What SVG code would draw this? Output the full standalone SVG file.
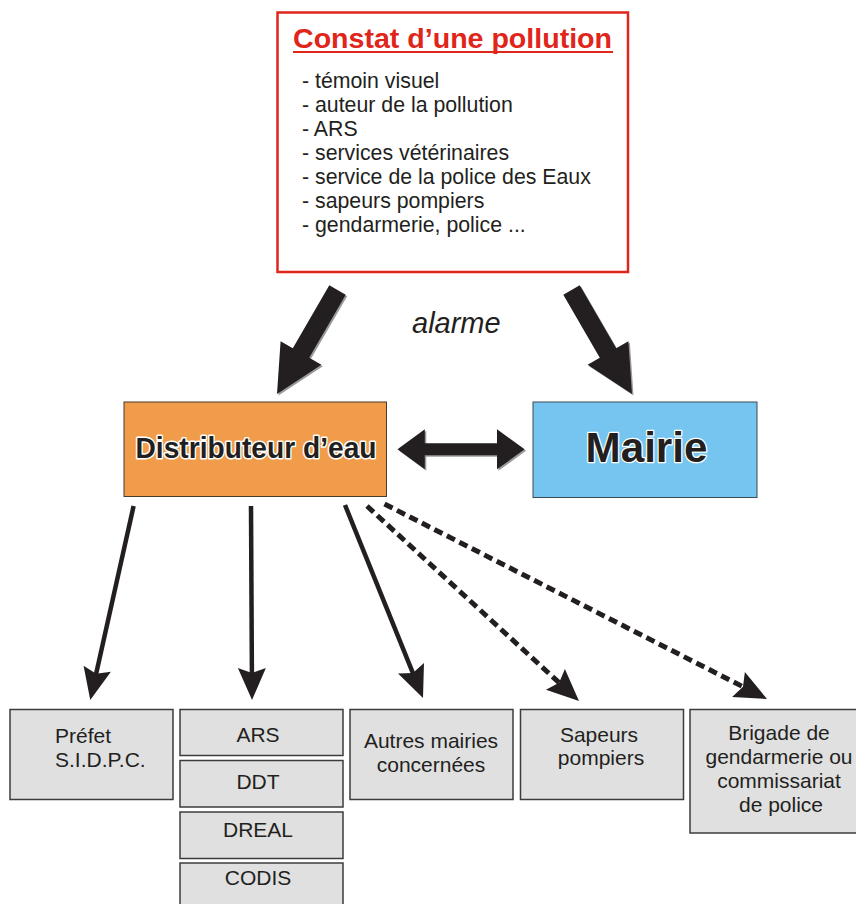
<svg xmlns="http://www.w3.org/2000/svg" width="856" height="904" viewBox="0 0 856 904">
<style>
.t{font-family:"Liberation Sans",Arial,sans-serif;fill:#231f20}
.box{fill:#e0e0e0;stroke:#3c3c3c;stroke-width:1.5}
.lbl{font-size:21px;text-anchor:middle}
.con{stroke:#231f20;stroke-width:4.5;fill:none}
.dash{stroke-dasharray:9 5;stroke-width:5}
.big{fill:#231f20}
.sh{fill:#9a9a9a}
</style>
<defs>
<marker id="ah" markerUnits="userSpaceOnUse" markerWidth="34" markerHeight="30" viewBox="0 0 34 30" refX="25" refY="15" orient="auto">
<path d="M1,1 L33,15 L1,29 L6,15 Z" fill="#231f20"/>
</marker>
</defs>
<rect width="856" height="904" fill="#ffffff"/>

<g id="constat">
<rect x="277.5" y="12.5" width="350.5" height="259.5" fill="#ffffff" stroke="#e0251b" stroke-width="2.5"/>
<text x="293" y="48" class="t" font-size="28" font-weight="bold" textLength="319" lengthAdjust="spacingAndGlyphs" style="fill:#e0251b">Constat d’une pollution</text>
<line x1="293" y1="52" x2="613" y2="52" stroke="#e0251b" stroke-width="2.2"/>
<g class="t" font-size="21.3">
<text x="302" y="88">- témoin visuel</text>
<text x="302" y="112">- auteur de la pollution</text>
<text x="302" y="136">- ARS</text>
<text x="302" y="160">- services vétérinaires</text>
<text x="302" y="184">- service de la police des Eaux</text>
<text x="302" y="208">- sapeurs pompiers</text>
<text x="302" y="232">- gendarmerie, police ...</text>
</g>
</g>

<text x="412" y="333" class="t" font-size="29" font-style="italic">alarme</text>

<g id="distributeur">
<rect x="124" y="402" width="262.5" height="94.5" fill="#f09c4a" stroke="#4a3a2a" stroke-width="1"/>
<text x="256" y="458" class="t" font-size="30" font-weight="bold" text-anchor="middle" textLength="241" lengthAdjust="spacingAndGlyphs" stroke="#ffffff" stroke-width="3" paint-order="stroke" stroke-linejoin="round">Distributeur d’eau</text>
</g>

<g id="mairie">
<rect x="533" y="402" width="224" height="95.5" fill="#75c5f0" stroke="#3c4a55" stroke-width="1"/>
<text x="646.5" y="462" class="t" font-size="43" font-weight="bold" text-anchor="middle" textLength="122" lengthAdjust="spacingAndGlyphs" stroke="#ffffff" stroke-width="2.5" paint-order="stroke" stroke-linejoin="round">Mairie</text>
</g>

<g id="prefet">
<rect class="box" x="10" y="709.5" width="163" height="90"/>
<text class="t" font-size="21" x="55" y="743">Préfet</text>
<text class="t" font-size="21" x="55" y="767">S.I.D.P.C.</text>
</g>
<g id="ars">
<rect class="box" x="180" y="709.5" width="163" height="46"/>
<text class="t lbl" x="258" y="741.5">ARS</text>
</g>
<g id="ddt">
<rect class="box" x="180" y="760.5" width="163" height="46.5"/>
<text class="t lbl" x="258" y="789">DDT</text>
</g>
<g id="dreal">
<rect class="box" x="180" y="812" width="163" height="46.5"/>
<text class="t lbl" x="258" y="836.5">DREAL</text>
</g>
<g id="codis">
<rect class="box" x="180" y="863" width="163" height="50"/>
<text class="t lbl" x="258" y="885">CODIS</text>
</g>
<g id="autres">
<rect class="box" x="350" y="709.5" width="163" height="90"/>
<text class="t lbl" x="431" y="748">Autres mairies</text>
<text class="t lbl" x="431" y="771.5">concernées</text>
</g>
<g id="sapeurs">
<rect class="box" x="520.5" y="709.5" width="163" height="90"/>
<text class="t lbl" x="599" y="741.5">Sapeurs</text>
<text class="t lbl" x="601" y="765">pompiers</text>
</g>
<g id="brigade">
<rect class="box" x="690" y="709.5" width="175" height="123.5"/>
<text class="t lbl" x="779" y="740">Brigade de</text>
<text class="t lbl" x="779" y="763.5">gendarmerie ou</text>
<text class="t lbl" x="779" y="788">commissariat</text>
<text class="t lbl" x="781" y="811.5">de police</text>
</g>

<g id="connectors">
<polygon class="sh" transform="translate(1.5,1.5)" points="329.3,285.25 345.7,294.75 309.2,357.75 321.4,364.75 277,394 280.6,341.25 292.8,348.25"/>
<polygon class="big" points="329.3,285.25 345.7,294.75 309.2,357.75 321.4,364.75 277,394 280.6,341.25 292.8,348.25"/>
<polygon class="sh" transform="translate(1.5,1.5)" points="579.7,285.25 563.3,294.75 599.8,357.75 587.6,364.75 632,394 628.4,341.25 616.2,348.25"/>
<polygon class="big" points="579.7,285.25 563.3,294.75 599.8,357.75 587.6,364.75 632,394 628.4,341.25 616.2,348.25"/>
<polygon class="sh" transform="translate(1.5,1.5)" points="397.5,449.3 424.8,429.3 424.8,443.3 497,443.3 497,429.3 524.6,449.3 497,469.3 497,455.3 424.8,455.3 424.8,469.3"/>
<polygon class="big" points="397.5,449.3 424.8,429.3 424.8,443.3 497,443.3 497,429.3 524.6,449.3 497,469.3 497,455.3 424.8,455.3 424.8,469.3"/>
<line class="con" x1="133.6" y1="506" x2="92" y2="692.2" marker-end="url(#ah)"/>
<line class="con" x1="251" y1="506" x2="252" y2="692" marker-end="url(#ah)"/>
<line class="con" x1="345" y1="505" x2="420" y2="690.6" marker-end="url(#ah)"/>
<line class="con dash" x1="367" y1="506" x2="573.1" y2="695.6" marker-end="url(#ah)"/>
<line class="con dash" x1="384.5" y1="504" x2="759.9" y2="695.4" marker-end="url(#ah)"/>
</g>
</svg>
